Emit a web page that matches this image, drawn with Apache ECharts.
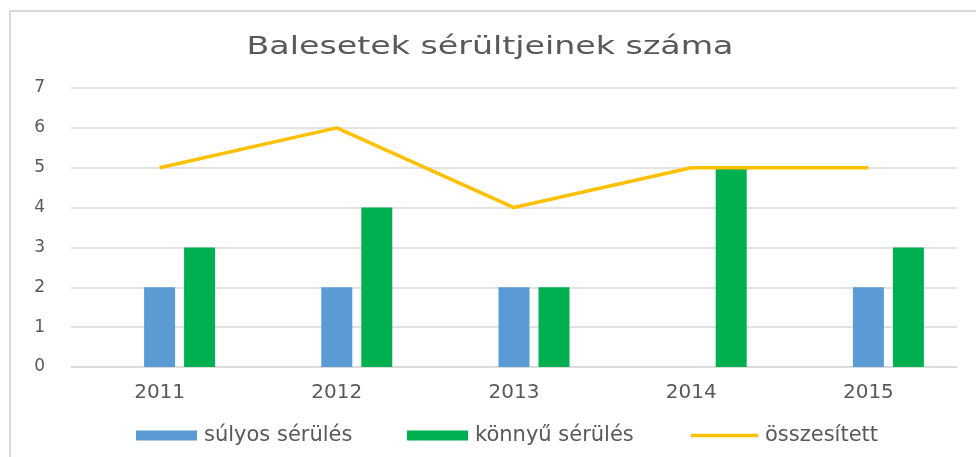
<!DOCTYPE html>
<html>
<head>
<meta charset="utf-8">
<script src="https://cdn.jsdelivr.net/npm/echarts@6/dist/echarts.min.js"></script>
<style>
html,body{margin:0;padding:0;background:#fff;}
#c{width:976px;height:457px;}
</style>
</head>
<body>
<div id="c"></div>
<script>
const categories = ['2011', '2012', '2013', '2014', '2015'];
const sulyos = [2, 2, 2, 0, 2];
const konnyu = [3, 4, 2, 5, 3];
const osszesitett = [5, 6, 4, 5, 5];
const yTicks = [0, 1, 2, 3, 4, 5, 6, 7];
const titleText = 'Balesetek sérültjeinek száma';

const FONT = 'DejaVu Sans';
const TXT = '#595959';
const legendText = {fontFamily: FONT, fontSize: 21, color: TXT, padding: [0, 0, 0, 2]};

const chart = echarts.init(document.getElementById('c'), null, {renderer: 'canvas'});
chart.setOption({
  animation: false,
  backgroundColor: '#fff',
  textStyle: {fontFamily: FONT, color: TXT},
  graphic: [{
    type: 'rect', silent: true, z: -1,
    shape: {x: 10, y: 11, width: 1000, height: 500},
    style: {fill: 'none', stroke: '#d9d9d9', lineWidth: 2}
  }, {
    type: 'text', silent: true,
    x: 490, y: 47, scaleX: 1.33,
    style: {
      text: titleText, x: 0, y: 0,
      align: 'center', verticalAlign: 'middle',
      textAlign: 'center', textVerticalAlign: 'middle',
      fontFamily: FONT, fontSize: 25, fill: TXT
    }
  }],
  legend: [{
    left: 131, top: 420, itemWidth: 61, itemHeight: 10, itemGap: 0,
    textStyle: legendText,
    data: [{name: 'súlyos sérülés', icon: 'rect'}]
  }, {
    left: 402, top: 420, itemWidth: 61, itemHeight: 10, itemGap: 0,
    textStyle: legendText,
    data: [{name: 'könnyű sérülés', icon: 'rect'}]
  }, {
    left: 686, top: 420, itemWidth: 67, itemHeight: 3.5, itemGap: 0,
    textStyle: legendText,
    data: [{name: 'összesített', icon: 'rect'}]
  }],
  grid: {left: 71, right: 19, top: 88, bottom: 90},
  xAxis: {
    type: 'category', data: categories,
    axisLine: {lineStyle: {color: '#d9d9d9', width: 1.5}},
    axisTick: {show: false},
    axisLabel: {fontFamily: FONT, fontSize: 20, color: TXT, margin: 16}
  },
  yAxis: {
    type: 'value', min: 0, max: yTicks[yTicks.length - 1], interval: 1,
    axisLine: {show: false}, axisTick: {show: false},
    splitLine: {lineStyle: {color: '#d9d9d9', width: 1.5}},
    axisLabel: {fontFamily: FONT, fontSize: 17, color: TXT, margin: 26}
  },
  series: [
    {name: '_', type: 'bar', data: categories.map(() => null), barWidth: 31, barGap: '29%', legendHoverLink: false},
    {name: 'súlyos sérülés', type: 'bar', data: sulyos, barWidth: 31, barGap: '29%', itemStyle: {color: '#5B9BD5'}},
    {name: 'könnyű sérülés', type: 'bar', data: konnyu, barWidth: 31, barGap: '29%', itemStyle: {color: '#00B050'}},
    {name: 'összesített', type: 'line', data: osszesitett, symbol: 'none', showSymbol: false,
     lineStyle: {color: '#FFC000', width: 3.5}, itemStyle: {color: '#FFC000'}, z: 3}
  ]
});
</script>
</body>
</html>
